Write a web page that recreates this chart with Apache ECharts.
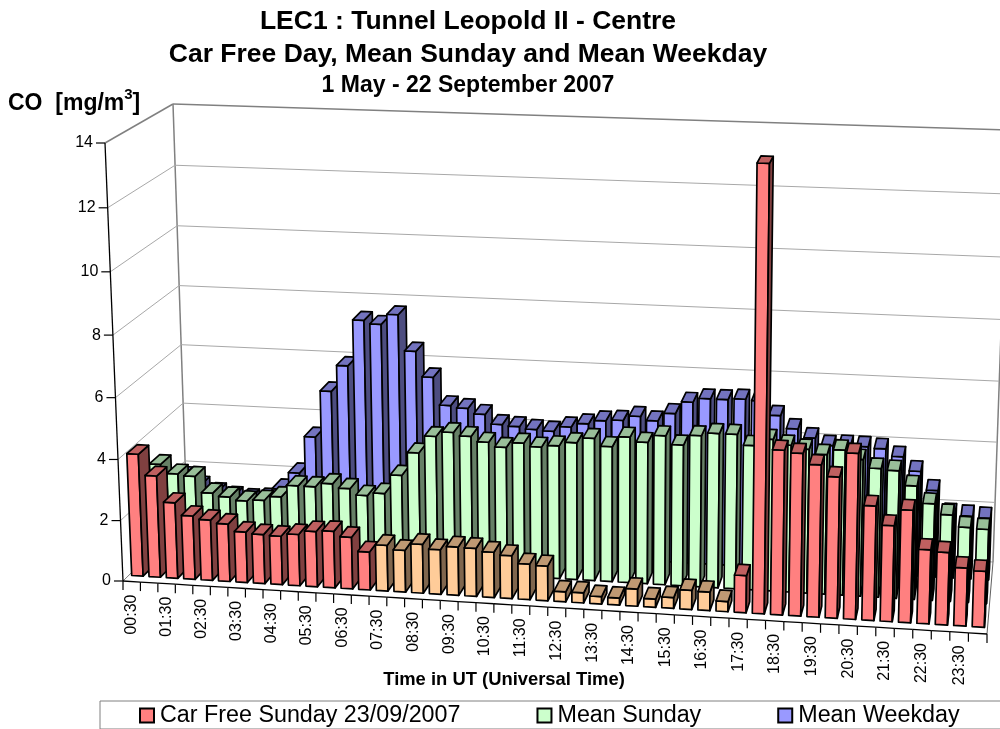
<!DOCTYPE html>
<html>
<head>
<meta charset="utf-8">
<title>LEC1 CO</title>
<script src="https://cdn.jsdelivr.net/npm/echarts@6/dist/echarts.min.js"></script>
<style>
html, body { margin: 0; padding: 0; background: #fff; }
#main { width: 1000px; height: 729px; }
</style>
</head>
<body>
<div id="main"></div>
<script>
// half hour slots, only every second one gets a label
var categories = ['00:30','01:00','01:30','02:00','02:30','03:00','03:30','04:00','04:30','05:00','05:30','06:00',
    '06:30','07:00','07:30','08:00','08:30','09:00','09:30','10:00','10:30','11:00','11:30','12:00',
    '12:30','13:00','13:30','14:00','14:30','15:00','15:30','16:00','16:30','17:00','17:30','18:00',
    '18:30','19:00','19:30','20:00','20:30','21:00','21:30','22:00','22:30','23:00','23:30','24:00'];
var carFree = [4.03,3.35,2.5,2.1,2.0,1.9,1.67,1.62,1.6,1.69,1.82,1.86,1.7,1.25,1.5,1.37,1.6,1.46,1.58,1.57,1.48,1.4,1.16,1.13,
    0.33,0.33,0.24,0.23,0.56,0.27,0.35,0.62,0.6,0.33,1.2,14,5.25,5.18,4.85,4.5,5.27,3.65,3.06,3.58,2.36,2.31,1.85,1.78];
var meanSunday = [3.07,2.78,2.73,2.2,2.1,2.0,2.05,2.2,2.6,2.6,2.73,2.6,2.4,2.5,3.13,3.9,4.47,4.63,4.53,4.37,4.23,4.4,4.3,4.37,
    4.5,4.67,4.43,4.77,4.63,4.87,4.6,4.93,5.03,5.03,4.7,4.93,4.77,4.67,4.53,4.7,4.43,4.17,4.13,3.67,3.13,2.8,2.43,2.4];
var meanWeekday = [2.0,1.7,1.5,1.4,1.35,1.4,1.75,2.33,3.58,5.14,6.02,7.55,7.44,7.78,6.6,5.77,4.86,4.79,4.62,4.31,4.27,4.2,4.17,4.34,
    4.47,4.6,4.64,4.8,4.68,4.95,5.35,5.49,5.49,5.53,5.5,5.05,4.64,4.37,4.15,4.18,4.17,4.13,3.9,3.45,2.85,2.1,2.07,2.03];
var yTicks = [0,2,4,6,8,10,12,14];
var seriesNames = ['Car Free Sunday 23/09/2007','Mean Sunday','Mean Weekday'];

var FONT = '"Liberation Sans", Arial, sans-serif';
var slots = categories.length;

// corners of the 3d box on screen (f = front, b = back, l/r, 0 = floor, 1 = top of axis)
var box = {
    fl0: [123,581], fr0: [987,634], bl0: [187,518], br0: [993,562],
    fl1: [105,143], fr1: [1000,176], bl1: [173,104], br1: [1008,130]
};
function mix(a, b, t) { return [a[0] + (b[0] - a[0]) * t, a[1] + (b[1] - a[1]) * t]; }
function warp(t, r) { return t * r / (1 - t + t * r); }
function project(u, v, d) {
    var uu = warp(u, 0.967), vv = warp(v, 0.96);
    var low = mix(mix(box.fl0, box.fr0, uu), mix(box.bl0, box.br0, uu), d);
    var high = mix(mix(box.fl1, box.fr1, uu), mix(box.bl1, box.br1, uu), d);
    return mix(low, high, vv);
}
// turn a pixel from the (hidden) cartesian axes into box coordinates
function toBox(params, pt) {
    var c = params.coordSys;
    return { u: (pt[0] - c.x) / c.width, v: 1 - (pt[1] - c.y) / c.height };
}
function quad(pts, fill) {
    return { type: 'polygon', silent: true, shape: { points: pts },
        style: { fill: fill, stroke: '#000', lineWidth: 1.7, lineJoin: 'round' } };
}

var colors = {
    red:    { front: '#ff8080', top: '#bf6060', side: '#804040' },
    orange: { front: '#ffcc99', top: '#bf9973', side: '#80664d' },
    green:  { front: '#ccffcc', top: '#99bf99', side: '#668066' },
    blue:   { front: '#9999ff', top: '#7373bf', side: '#4d4d80' }
};

function barRenderer(dFront, dBack, pick) {
    return function (params, api) {
        var i = api.value(0);
        var p = toBox(params, api.coord([i, api.value(1)]));
        var half = 0.33 * api.size([1, 0])[0] / params.coordSys.width;
        var a = p.u - half, b = p.u + half, v = p.v;
        var col = pick(i);
        return { type: 'group', children: [
            quad([project(a,0,dFront), project(b,0,dFront), project(b,v,dFront), project(a,v,dFront)], col.front),
            quad([project(b,0,dFront), project(b,0,dBack), project(b,v,dBack), project(b,v,dFront)], col.side),
            quad([project(a,v,dFront), project(b,v,dFront), project(b,v,dBack), project(a,v,dBack)], col.top)
        ] };
    };
}

function line(p, q, color, width) {
    return { type: 'line', silent: true, shape: { x1: p[0], y1: p[1], x2: q[0], y2: q[1] },
        style: { stroke: color, lineWidth: width } };
}

// walls and gridlines, one item per y tick
function renderWalls(params, api) {
    var val = api.value(0);
    var v = toBox(params, api.coord([0, val])).v;
    var kids = [];
    var isTop = val === yTicks[yTicks.length - 1];
    var c = isTop ? '#808080' : '#a8a8a8', w = isTop ? 1.5 : 1;
    if (val !== 0) {
        kids.push(line(project(0,v,0), project(0,v,1), c, w));
        kids.push(line(project(0,v,1), project(1,v,1), c, w));
    } else {
        kids.push(line(project(0,0,0), project(0,0,1), '#808080', 1));
        kids.push(line(project(0,0,1), project(1,0,1), '#a8a8a8', 1));
        kids.push(line(project(1,0,0), project(1,0,1), '#606060', 1));
        kids.push(line(project(0,0,1), project(0,1,1), '#808080', 1.5));
        kids.push(line(project(1,0,1), project(1,1,1), '#808080', 1.5));
    }
    return { type: 'group', children: kids };
}

// y axis drawn on the tilted front edge
function renderYAxis(params, api) {
    var val = api.value(0);
    var v = toBox(params, api.coord([0, val])).v;
    var p = project(0, v, 0);
    var kids = [
        line([p[0] - 9, p[1]], p, '#000', 1.2),
        { type: 'text', silent: true, x: p[0] - 12, y: p[1],
          style: { text: String(val), align: 'right', verticalAlign: 'middle', fill: '#000', font: '16px ' + FONT } }
    ];
    if (val === yTicks[yTicks.length - 1]) kids.push(line(project(0,0,0), p, '#000', 1.3));
    return { type: 'group', children: kids };
}

// x axis drawn on the sloping front edge
function renderXAxis(params, api) {
    var i = api.value(0);
    var p = toBox(params, api.coord([i, 0]));
    var step = api.size([1, 0])[0] / params.coordSys.width;
    var left = project(p.u - step / 2, 0, 0), right = project(p.u + step / 2, 0, 0);
    var kids = [line(left, [left[0], left[1] + 9], '#000', 1.2), line(left, right, '#000', 1.3)];
    if (i === slots - 1) kids.push(line(right, [right[0], right[1] + 9], '#000', 1.2));
    if (i % 2 === 0) {
        var mid = project(p.u, 0, 0);
        kids.push({ type: 'text', silent: true, x: mid[0], y: mid[1] + 13, rotation: Math.PI / 2,
            style: { text: categories[i], align: 'right', verticalAlign: 'middle', fill: '#000', font: '16px ' + FONT } });
    }
    return { type: 'group', children: kids };
}

function pairs(arr) {
    return arr.map(function (val, i) { return [i, val]; });
}

var chart = echarts.init(document.getElementById('main'));
chart.setOption({
    animation: false,
    backgroundColor: '#fff',
    title: [
        { text: 'LEC1 : Tunnel Leopold II - Centre', left: 468, top: 8, textAlign: 'center',
          textStyle: { fontFamily: FONT, fontSize: 26.5, fontWeight: 'bold', color: '#000' }, padding: 0 },
        { text: 'Car Free Day, Mean Sunday and Mean Weekday', left: 468, top: 41, textAlign: 'center',
          textStyle: { fontFamily: FONT, fontSize: 26.5, fontWeight: 'bold', color: '#000' }, padding: 0 },
        { text: '1 May - 22 September 2007', left: 468, top: 74, textAlign: 'center',
          textStyle: { fontFamily: FONT, fontSize: 23, fontWeight: 'bold', color: '#000' }, padding: 0 },
        { text: '{a|CO  [mg/m}{s|3}{a|]}', left: 8, top: 87, padding: 0,
          textStyle: { rich: {
              a: { fontFamily: FONT, fontSize: 23, fontWeight: 'bold', color: '#000', lineHeight: 28, verticalAlign: 'bottom' },
              s: { fontFamily: FONT, fontSize: 15, fontWeight: 'bold', color: '#000', lineHeight: 15, verticalAlign: 'top' }
          } } },
        { text: 'Time in UT (Universal Time)', left: 504, top: 671, textAlign: 'center', padding: 0,
          textStyle: { fontFamily: FONT, fontSize: 18.4, fontWeight: 'bold', color: '#000' } }
    ],
    legend: {
        data: seriesNames,
        left: 100, top: 701,
        width: 1000,
        padding: [3, 60, 2, 39],
        itemWidth: 14, itemHeight: 14, itemGap: 76,
        icon: 'rect',
        borderColor: '#808080', borderWidth: 1,
        selectedMode: false,
        textStyle: { fontFamily: FONT, fontSize: 23.3, color: '#000', padding: [2, 0, 0, 1] }
    },
    grid: { left: 123, right: 13, top: 143, bottom: 148 },
    xAxis: { type: 'category', data: categories, show: false },
    yAxis: { type: 'value', min: 0, max: 14, interval: 2, show: false },
    series: [
        { type: 'custom', name: 'walls', silent: true, renderItem: renderWalls, z: 1,
          data: yTicks.map(function (t) { return [t]; }), encode: { x: -1, y: 0 } },
        { type: 'custom', name: seriesNames[2], renderItem: barRenderer(0.75, 0.91, function () { return colors.blue; }), z: 2,
          itemStyle: { color: colors.blue.front, borderColor: '#000', borderWidth: 1 },
          data: pairs(meanWeekday), encode: { x: 0, y: 1 } },
        { type: 'custom', name: seriesNames[1], renderItem: barRenderer(0.42, 0.58, function () { return colors.green; }), z: 3,
          itemStyle: { color: colors.green.front, borderColor: '#000', borderWidth: 1 },
          data: pairs(meanSunday), encode: { x: 0, y: 1 } },
        { type: 'custom', name: 'x axis', silent: true, renderItem: renderXAxis, z: 4,
          data: categories.map(function (c, i) { return [i]; }), encode: { x: 0, y: -1 } },
        { type: 'custom', name: 'y axis', silent: true, renderItem: renderYAxis, z: 4,
          data: yTicks.map(function (t) { return [t]; }), encode: { x: -1, y: 0 } },
        { type: 'custom', name: seriesNames[0],
          // the car free hours (07:30 - 17:00) are shown in orange
          renderItem: barRenderer(0.09, 0.25, function (i) { return i >= 14 && i <= 33 ? colors.orange : colors.red; }), z: 5,
          itemStyle: { color: colors.red.front, borderColor: '#000', borderWidth: 1 },
          data: pairs(carFree), encode: { x: 0, y: 1 } }
    ]
});
</script>
</body>
</html>
